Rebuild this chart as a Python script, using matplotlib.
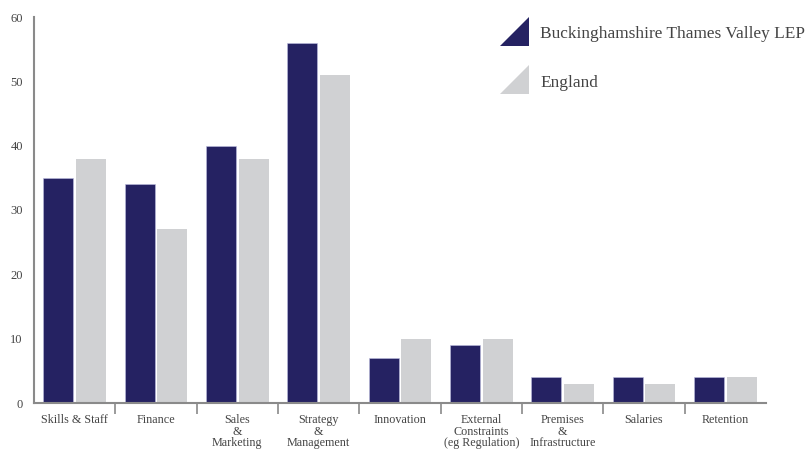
import matplotlib
matplotlib.use("Agg")
import matplotlib.pyplot as plt
from matplotlib.patches import Polygon
import numpy as np

categories = ["Skills & Staff", "Finance", "Sales\n&\nMarketing", "Strategy\n&\nManagement",
              "Innovation", "External\nConstraints\n(eg Regulation)", "Premises\n&\nInfrastructure",
              "Salaries", "Retention"]
bucks = [35, 34, 40, 56, 7, 9, 4, 4, 4]
england = [38, 27, 38, 51, 10, 10, 3, 3, 4]
series_names = ["Buckinghamshire Thames Valley LEP", "England"]
yticks = [0, 10, 20, 30, 40, 50, 60]

NAVY = "#252262"
GREY = "#D0D1D3"
TEXT = "#444444"
AXIS = "#8a8a8a"

plt.rcParams["font.family"] = ["Liberation Serif", "DejaVu Serif"]

fig = plt.figure(figsize=(8.11, 4.5), dpi=100)
ax = fig.add_axes([34 / 811, 47 / 450, (766 - 34) / 811, (403 - 17) / 450])

x = np.arange(len(categories))
w = 0.37
ax.bar(x - 0.2, bucks, width=w, color=NAVY, edgecolor="#bdbde0", linewidth=0.4)
ax.bar(x + 0.2, england, width=w, color=GREY)

ax.set_xlim(-0.5, len(categories) - 0.5)
ax.set_ylim(0, 60)

for s in ["top", "right"]:
    ax.spines[s].set_visible(False)
for s in ["left", "bottom"]:
    ax.spines[s].set_color(AXIS)
    ax.spines[s].set_linewidth(1.5)

ax.set_yticks(yticks)
ax.set_yticklabels([str(v) for v in yticks])
ax.tick_params(axis="y", length=0, pad=8, labelsize=9, labelcolor=TEXT)

ax.set_xticks(x)
ax.set_xticklabels(categories, linespacing=0.95)
ax.tick_params(axis="x", which="major", length=0, pad=8, labelsize=8.7, labelcolor=TEXT)
ax.set_xticks(np.arange(0.5, len(categories) - 0.5, 1.0), minor=True)
ax.tick_params(axis="x", which="minor", length=8, width=1.2, color=AXIS, direction="out")

# Legend: triangular swatches with labels
W, H = 811, 450
def tri(x0, y0, size, color):
    pts = [(x0 / W, 1 - (y0 + size) / H), ((x0 + size) / W, 1 - (y0 + size) / H),
           ((x0 + size) / W, 1 - y0 / H)]
    fig.patches.append(Polygon(pts, closed=True, transform=fig.transFigure,
                               facecolor=color, edgecolor="none"))

tri(500, 17, 29, NAVY)
tri(500, 65, 29, GREY)
fig.text(540 / W, 1 - 34 / H, series_names[0], fontsize=12.4, color=TEXT, va="center", ha="left")
fig.text(540 / W, 1 - 83 / H, series_names[1], fontsize=12.4, color=TEXT, va="center", ha="left")

fig.savefig("out.png", dpi=100, facecolor="white")
